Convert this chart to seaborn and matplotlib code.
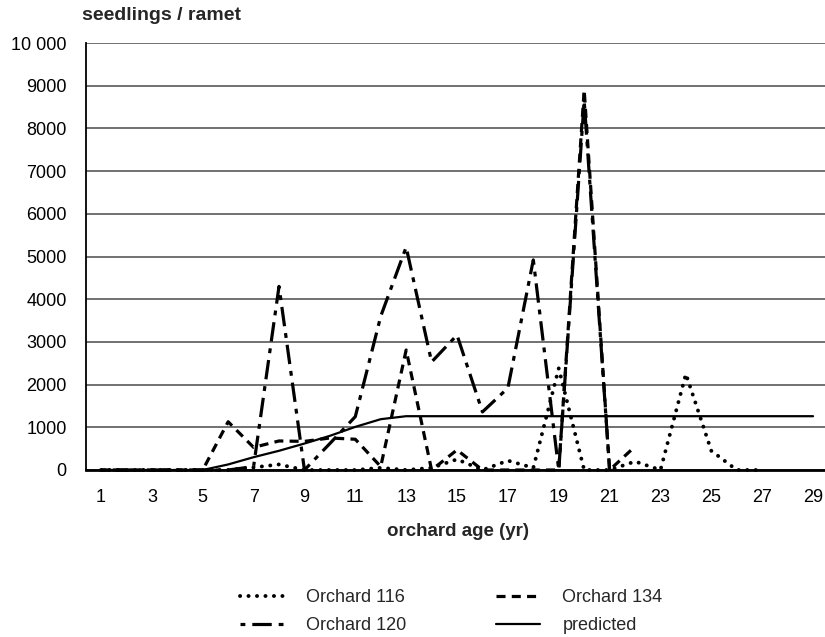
import matplotlib

matplotlib.use("Agg")

import matplotlib.pyplot as plt
import pandas as pd
import seaborn as sns

# seedlings per ramet by orchard age (yr)
ages_116 = list(range(1, 28))
orchard_116 = [0, 0, 0, 0, 0, 0, 60, 130, 0, 0, 0, 50, 0, 50, 250, 0, 220, 50,
               2380, 0, 0, 200, 0, 2250, 450, 0, 0]
ages_120 = list(range(1, 22))
orchard_120 = [0, 0, 0, 0, 0, 0, 80, 4300, 0, 620, 1250, 3600, 5220, 2530, 3160,
               1360, 1920, 4920, 0, 8650, 0]
ages_134 = list(range(1, 23))
orchard_134 = [0, 0, 0, 0, 0, 1130, 530, 680, 670, 750, 720, 80, 2810, 0, 470,
               0, 0, 0, 0, 8900, 0, 550]
ages_pred = list(range(1, 30))
predicted = [0, 0, 0, 0, 0, 130, 300, 450, 620, 800, 1010, 1190, 1260] + [1260] * 16

x_ticks = list(range(1, 30, 2))
y_ticks = list(range(0, 10001, 1000))
y_tick_labels = ["0"] + [str(v) for v in y_ticks[1:-1]] + ["10 000"]

sns.set_style("white")
plt.rcParams["font.family"] = ["Liberation Sans", "DejaVu Sans"]
plt.rcParams["lines.scale_dashes"] = False

W, H = 825, 637
fig = plt.figure(figsize=(W / 100, H / 100), dpi=100)
ax = fig.add_axes([86 / W, (H - 470) / H, (W - 86) / W, (470 - 43) / H])

series = [
    ("Orchard 116", ages_116, orchard_116, (0, (0.1, 6.0)), 2.8, "round"),
    ("Orchard 120", ages_120, orchard_120, (0, (3.5, 5, 14, 5)), 2.3, "butt"),
    ("Orchard 134", ages_134, orchard_134, (0, (6.5, 4.5)), 2.3, "butt"),
    ("predicted", ages_pred, predicted, "-", 1.6, "butt"),
]
for name, xs, ys, ls, lw, cap in series:
    df = pd.DataFrame({"age": xs, "value": ys})
    sns.lineplot(data=df, x="age", y="value", ax=ax, color="black",
                 linestyle=ls, linewidth=lw, dash_capstyle=cap,
                 label=name, clip_on=False, zorder=3)

ax.set_xlim(0.41, 29.47)
ax.set_ylim(0, 10000)
ax.set_xticks(x_ticks)
ax.set_xticklabels([str(v) for v in x_ticks])
ax.set_yticks(y_ticks)
ax.set_yticklabels(y_tick_labels)
ax.tick_params(axis="both", length=0, labelsize=13, colors="black")
ax.tick_params(axis="x", pad=14)
ax.tick_params(axis="y", pad=14)
ax.grid(axis="y", color="#666666", linewidth=1.3)
ax.grid(axis="x", visible=False)
ax.set_xlabel("")
ax.set_ylabel("")
for side in ["top", "right"]:
    ax.spines[side].set_visible(False)
ax.spines["left"].set_color("black")
ax.spines["left"].set_linewidth(1.3)
ax.spines["bottom"].set_color("black")
ax.spines["bottom"].set_linewidth(2.0)
ax.spines["bottom"].set_zorder(4)

fig.text(82 / W, 1 - 15 / H, "seedlings / ramet", fontsize=14,
         fontweight="bold", ha="left", va="center")
fig.text(458 / W, 1 - 531 / H, "orchard age (yr)", fontsize=13.5,
         fontweight="bold", ha="center", va="center")

handles, labels = ax.get_legend_handles_labels()
ax.get_legend().remove()
fig.legend(handles, labels, ncol=2, loc="upper left",
           bbox_to_anchor=(240 / W, 1 - 589 / H), frameon=False,
           fontsize=13, handlelength=2.4, handletextpad=1.25,
           columnspacing=5.0, labelspacing=0.62, borderpad=0,
           borderaxespad=0)

fig.savefig("out.png", dpi=100)
